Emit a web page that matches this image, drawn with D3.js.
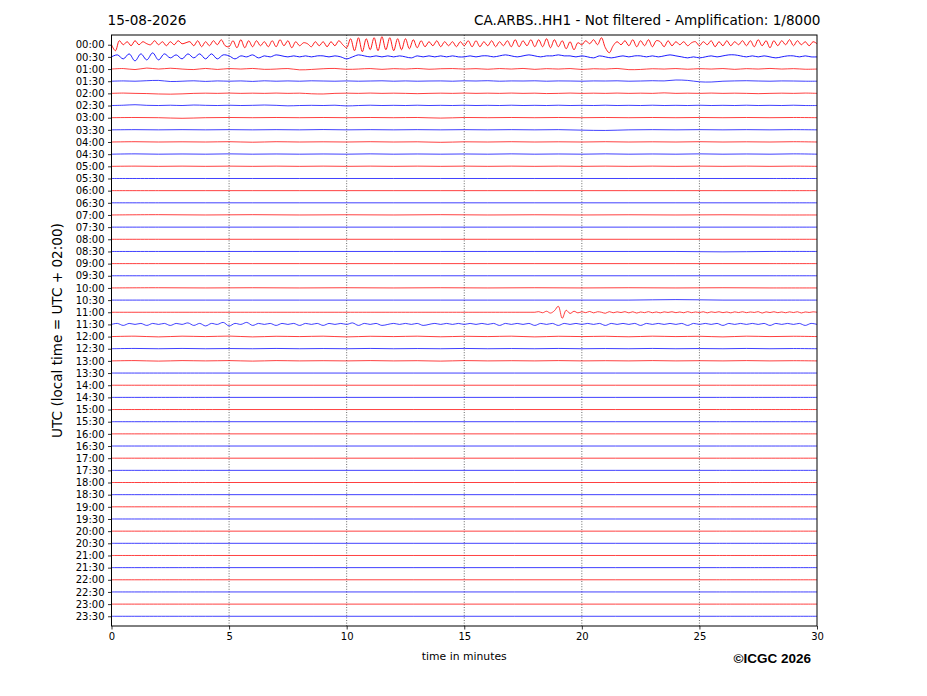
<!DOCTYPE html>
<html><head><meta charset="utf-8">
<script src="https://cdn.jsdelivr.net/npm/d3@7"></script>
<style>html,body{margin:0;padding:0;background:#fff;}svg{display:block;}</style>
</head><body>
<svg id="c" width="927" height="696"></svg>
<script>
// ---------- data ----------
const dateLabel = "15-08-2026";
const stationTitle = "CA.ARBS..HH1 - Not filtered - Amplification: 1/8000";
const xLabel = "time in minutes";
const yLabel = "UTC (local time = UTC + 02:00)";
const credit = "\u00A9ICGC 2026";
const xTicks = [0, 5, 10, 15, 20, 25, 30];
const rowLabels = ["00:00","00:30","01:00","01:30","02:00","02:30","03:00","03:30","04:00","04:30",
  "05:00","05:30","06:00","06:30","07:00","07:30","08:00","08:30","09:00","09:30",
  "10:00","10:30","11:00","11:30","12:00","12:30","13:00","13:30","14:00","14:30",
  "15:00","15:30","16:00","16:30","17:00","17:30","18:00","18:30","19:00","19:30",
  "20:00","20:30","21:00","21:30","22:00","22:30","23:00","23:30"];

// trace samples (counts), evenly spaced over 30 minutes
const tr0000 = [0,-6,4,0,3,-1,4,0,3,1, 0,4,0,3,-1,3,0,4,1,2, 3,-1,4,-2,3,-1,4,0,5,-1,
  -2,4,-3,5,-3,4,-2,4,-1,3, -2,4,-2,5,-1,4,-3,3,-1,2, 1,-2,3,-1,3,-2,3,-1,4,0,
  -3,6,-6,7,-7,6,-5,7,-6,8, -5,7,-6,6,-5,6,-4,5,-3,4, -2,3,-1,4,-2,3,-1,3,-2,3,
  -1,4,-2,4,-2,3,-1,4,-2,3, -1,4,-2,5,-2,4,-1,5,-2,5, -2,6,-3,5,-2,4,-4,3,-5,2,
  0,4,1,5,0,7,-3,-8,-1,3, 0,4,-1,5,-2,4,-1,5,-2,4, 3,-2,4,-1,3,0,3,-1,2,3,
  -1,3,0,4,-2,3,-1,4,-1,3, 0,4,-1,4,-2,5,-1,4,-3,4, -1,4,0,5,-1,4,0,3,-1,3, 1];
const tr0030 = [0,2,-2,3,-4,3,-3,4,-3,3, -1,2,-2,3,-1,3,-2,3,-2,2, 1,-2,1,0,2,-1,1,0,2,1,
  0,1,0,1,0,1,1,0,1,0, -2,0,2,1,0,1,0,1,0,1, 0,-1,1,0,1,0,1,0,1,0,
  0,1,0,1,1,0,1,2,1,0, 1,2,1,0,1,1,2,1,1,0, 1,0,-1,1,0,-1,0,1,0,1,
  1,0,1,0,1,2,1,0,-1,0, -1,0,1,0,1,2,2,1,0,1, 0,1,0,-1,0,1,1,0,1,0, 0];
const tr0100 = [0,0.5,-0.5,1,0,0.8,0,-0.5,0.6,-0.4,0.5,0,0.6,-0.3,0,0.5,-0.8,-0.4,0.3,0.6,
  -0.3,0,0.5,-0.3,0.4,0,0.6,-0.2,0.3,0.5,0, 0.4,-0.2,0.5,0,0.6,-0.3,0.4,0,0.5,
  -0.4,0.3,0,0.6,-0.6,-0.4,0.3,0,0.5,-0.2,0.4,0,0.5,-0.3,0.4,0,0.6,0,0.4,-0.2,0];
const tr0130 = [0,0.3,0,0.5,0.8,-0.3,0,0.4,-0.2,0.3,0,0.3,-0.2,0.4,0,0.3,0,0.4,0.2,0,
  0.3,0,0.2,0.4,0,0.3,0,0.2,0.3,0,0.4, 0.2,0.5,0,0.3,0.2,0.4,0,0.3,0.2,
  0,0.3,0.2,0.4,0,0.2,0.5,0.3,1.2,0.8,-0.6,-0.8,0,0.3,0.5,0.2,0,0.3,0.2,0,0];
const tr0200 = [0,0.3,0,-0.2,-0.6,-0.8,-0.5,0,0.2,0,0.3,0,0.2,0,0.3,0,0.2,-0.4,-0.6,0,
  0.2,0,0.3,0,0.2,0,-0.3,0,0.2,0,0.3, 0,0.2,0,0.3,0,0.2,-0.2,0,0.3,
  0,0.2,0,0.3,0,0.2,0,0.5,0,0.2,0,0.3,0,0.2,0,-0.3,0,0.2,0,0.3,0];
const tr0230 = [0,0.3,0.8,0.2,0,0.3,0,0.5,0.2,0,0.3,0,0.2,0.5,0.2,-0.3,0,0.2,0,0.3,
  -0.4,0,0.3,0,0.2,0,0.3,0,0.2,0,0.3, 0,0.2,0,0.3,0,0.2,0,0.3,0,
  0.2,0,0.3,0,0.2,0,0.3,0,0.2,0,0.3,0,0.2,0,0.3,0,0.2,0,0.3,0,0];
const tr0300 = [0,0.2,0,-0.6,0,0.2,0,0.2,0,0.2,0,0.2,0,0.2,-0.4,0.2,0,0.2,0,0.2,0,0.2,0,0.2,0,0.2,0,0.2,0,0.2,0];
const tr0330 = [0,0.2,0,0.2,0,0.2,0,0.2,0,0.3,0,0.2,0,0.2,0,0.2,0,0.2,0,0.2,-0.3,-0.6,0,0.2,0,0.2,0,0.2,0,0.2,0];
const tr0400 = [0,0.3,0,0.2,0,0.3,-0.2,0.3,0,0.2,0,0.3,0,0.2,-0.3,0.2,0,0.3,0,0.2,0,0.3,0,0.2,0,0.3,0,0.2,0,0.3,0];
const tr0430 = [0,0.3,0,0.2,0,0.3,0,0.2,0,0.2,0,0.3,0,0.2,0,0.2,0,0.3,0,0.2,0,0.3,0,0.2,0,0.3,0,0.2,0,0.3,0];
const tr0500 = [0,0.2,0,0.2,0,0.2,0,0.2,0,0.2,0,0.2,0,0.2,0,0.2,0,0.2,0,0.2,0,0.2,0,0.2,0,0.2,0,0.2,0,0.2,0];
const tr0530 = [0,0,0,0,0,0,0,0,0,0,0,0,0,0,0,0];
const tr0600 = [0,0,0,0,0,0,0,0,0,0,0,0,0,0,0,0];
const tr0630 = [0,0,0,0,0,0,0,0,0,0,0,0,0,0,0,0];
const tr0700 = [0,0.3,0,0.3,0,0.2,0,0.3,0,0.2,0,0.2,0,0.2,0,0];
const tr0730 = [0,0,0,0,0,0,0,0,0,0,0,0,0,0,0,0];
const tr0800 = [0,0,0,0,0,0,0,0,0,0,0,0,0,0,0,0];
const tr0830 = [0,0,0,0,0,0,0,0,0,0,0,0,0,-0.4,0,0];
const tr0900 = [0,0,0,0,0,0,0,0,0,0,0,0,0,0,0,0];
const tr0930 = [0,0,0,0,0,0,0,0,0,0,0,0,0,0,0,0];
const tr1000 = [0,0.2,0,0.2,0,0.2,0,0.2,0,0.2,0,0.2,0,0.2,0,0];
const tr1030 = [0,0,0,0,0,0,0,0,0,0,0,0,0.5,0,0,0];
const tr1100 = [0,0,0,0,0,0,0,0,0,0, 0,0,0,0,0,0,0,0,0,0, 0,0,0,0,0,0,0,0,0,0,
  0,0,0,0,0,0,0,0,0,0, 0,0,0,0,0,0,0,0,0,0, 0,0,0,0,0,0,0,0,0,0,
  0,0,0,0,0,0,0,0,0,0, 0,0,0,0,0,0,0,0,0,0, 0,0,0,0,0,0,0,0,0,0,
  0,0,0,0,0,0,0,0,0,0, 0,0,0,0,0,0,0,0,0,0.6, -0.5,1,-0.8,1.5,6,-6,2,-1.2,1,-0.6,
  0.5,-0.4,0.8,-0.6,0.5,0,-1,0.6,-0.5,0.4, -0.3,0.6,-0.6,0.5,-0.8,0.3,-0.4,0.6,-0.5,0.3,
  -0.6,0.4,-0.2,0.5,-0.4,0.3,-0.5,0.6,-0.4,0.3, -0.3,0.5,-0.6,0.4,-0.2,0.5,-0.4,0.3,-0.6,0.4,
  -0.3,0.5,-0.4,0.3,-0.2,0.6,-0.8,0.4,-0.3,0.5, -0.4,0.3,-0.5,0.4,-0.3,0.5,-0.7,0.3,-0.2,0.4, 0];
const tr1130 = [0,1,-1,1,0,1,-1,1,0,1, -1,1,0,1.5,-1,1,-1.5,1,0,2, -1.5,1,0,2,-1,1,0,1,-1,1,
  0,1,-1,1,0,1,-1,1,0,1, 0,1.5,-1,1,0,1,-1,0,1,0, 1,0,1,-1,0,1,0,1,0,1,
  0,1,0,1,0,1,-1,1,0,1, 0,1,-1,1,0,1,-1,1,0,1, 0,1,0,1,-1,1,0,1,0,1,
  -1,1,0,1,0,1,0,1,-1,1, 0,1,0,1,-1,1,0,1,0,1, 0,1,-1,1,0,1,0,1,-1,1, 0];
const tr1200 = [0,0.4,-0.3,0.4,0,0.5,-0.3,0.3,0,0.4,-0.3,0.3,0,0.4,-0.2,0.3,0,0.4,-0.3,0.3,0,0.3,-0.2,0.4,0,0.3,-0.3,0.4,0,0.3,0];
const tr1230 = [0,0.3,0,0.3,0,0.2,0,0.3,0,0.2,0,0.3,0,0.2,0,0.3,0,0.2,0,0.3,0,0.2,0,0.3,0,0.2,0,0.3,0,0.2,0];
const tr1300 = [0,0.3,-0.2,0.3,0,0.3,-0.2,0.3,0,0.2,0,0.3,0,0.2,-0.2,0.3,0,0.2,0,0.3,0,0.2,0,0.3,0,0.2,0,0.3,0,0.2,0];
const tr1330 = [0,0,0,0,0,0,0,0];
const tr1400 = [0,0,0,0,0,0,0,0];
const tr1430 = [0,0,0,0,0,0,0,0];
const tr1500 = [0,0,0,0,0,0,0,0];
const tr1530 = [0,0,0,0,0,0,0,0];
const tr1600 = [0,0,0,0,0,0,0,0];
const tr1630 = [0,0,0,0,0,0,0,0];
const tr1700 = [0,0,0,0,0,0,0,0];
const tr1730 = [0,0,0,0,0,0,0,0];
const tr1800 = [0,0,0,0,0,0,0,0];
const tr1830 = [0,0,0,0,0,0,0,0];
const tr1900 = [0,0,0,0,0,0,0,0];
const tr1930 = [0,0,0,0,0,0,0,0];
const tr2000 = [0,0,0,0,0,0,0,0];
const tr2030 = [0,0,0,0,0,0,0,0];
const tr2100 = [0,0,0,0,0,0,0,0];
const tr2130 = [0,0,0,0,0,0,0,0];
const tr2200 = [0,0,0,0,0,0,0,0];
const tr2230 = [0,0,0,0,0,0,0,0];
const tr2300 = [0,0,0,0,0,0,0,0];
const tr2330 = [0,0,0,0,0,0,0,0];

const traces = [tr0000,tr0030,tr0100,tr0130,tr0200,tr0230,tr0300,tr0330,tr0400,tr0430,
  tr0500,tr0530,tr0600,tr0630,tr0700,tr0730,tr0800,tr0830,tr0900,tr0930,
  tr1000,tr1030,tr1100,tr1130,tr1200,tr1230,tr1300,tr1330,tr1400,tr1430,
  tr1500,tr1530,tr1600,tr1630,tr1700,tr1730,tr1800,tr1830,tr1900,tr1930,
  tr2000,tr2030,tr2100,tr2130,tr2200,tr2230,tr2300,tr2330];

// ---------- layout ----------
const M = {left: 111.5, right: 817, top: 35, bottom: 626};
const countsPerRow = 12.16;
const FONT = "'DejaVu Sans', sans-serif";
const svg = d3.select("#c");

const x = d3.scaleLinear().domain([0, 30]).range([M.left, M.right]);
const y = d3.scaleLinear().domain([0.8, -47.8]).range([M.top, M.bottom]);

// clip
svg.append("defs").append("clipPath").attr("id","plotclip")
  .append("rect").attr("x",M.left).attr("y",M.top)
  .attr("width",M.right-M.left).attr("height",M.bottom-M.top);

// grid
svg.append("g").selectAll("line").data(xTicks.filter(t => t > 0 && t < 30)).join("line")
  .attr("x1", d => x(d)).attr("x2", d => x(d))
  .attr("y1", M.top).attr("y2", M.bottom)
  .attr("stroke", "#444").attr("stroke-width", 0.8).attr("stroke-dasharray", "1,1.6");

// traces
const gT = svg.append("g").attr("clip-path","url(#plotclip)");
traces.forEach((arr, i) => {
  const n = arr.length;
  const line = d3.line()
    .x((d, j) => x(j * 30 / (n - 1)))
    .y(d => y(-i + d / countsPerRow))
    .curve(d3.curveCatmullRom.alpha(0.5));
  gT.append("path").datum(arr).attr("d", line)
    .attr("fill","none")
    .attr("stroke", i % 2 === 0 ? "#ff0000" : "#0000ff")
    .attr("stroke-width", i < 2 ? 0.9 : 0.75);
});

// axes
const xAxis = d3.axisBottom(x).tickValues(xTicks).tickFormat(d3.format("d")).tickSize(3.5).tickPadding(3.5);
const gx = svg.append("g").attr("transform", `translate(0,${M.bottom})`).call(xAxis);
const yAxis = d3.axisLeft(y).tickValues(rowLabels.map((d,i) => -i))
  .tickFormat((d) => rowLabels[-d]).tickSize(3.5).tickPadding(3.5);
const gy = svg.append("g").attr("transform", `translate(${M.left},0)`).call(yAxis);
[gx, gy].forEach(g => {
  g.select(".domain").remove();
  g.selectAll("text").attr("font-family", FONT).attr("font-size", 10).attr("fill", "#000");
  g.selectAll("line").attr("stroke", "#000").attr("stroke-width", 0.8);
});

// frame
svg.append("rect").attr("x", M.left).attr("y", M.top)
  .attr("width", M.right - M.left).attr("height", M.bottom - M.top)
  .attr("fill", "none").attr("stroke", "#000").attr("stroke-width", 1);

// texts
svg.append("text").attr("x", 107.5).attr("y", 25).text(dateLabel)
  .attr("font-family", FONT).attr("font-size", 13.6);
svg.append("text").attr("x", 820.5).attr("y", 25).attr("text-anchor","end").text(stationTitle)
  .attr("font-family", FONT).attr("font-size", 13.6);
svg.append("text").attr("x", (M.left + M.right) / 2).attr("y", 660).attr("text-anchor","middle")
  .text(xLabel).attr("font-family", FONT).attr("font-size", 10.8);
svg.append("text").attr("transform", `translate(62,${(M.top + M.bottom) / 2}) rotate(-90)`)
  .attr("text-anchor","middle").text(yLabel)
  .attr("font-family", FONT).attr("font-size", 13.6);
svg.append("text").attr("x", 811).attr("y", 663).attr("text-anchor","end").text(credit)
  .attr("font-family", "'Liberation Sans', Arial, sans-serif").attr("font-weight","bold").attr("font-size", 13.5);
</script>
</body></html>
